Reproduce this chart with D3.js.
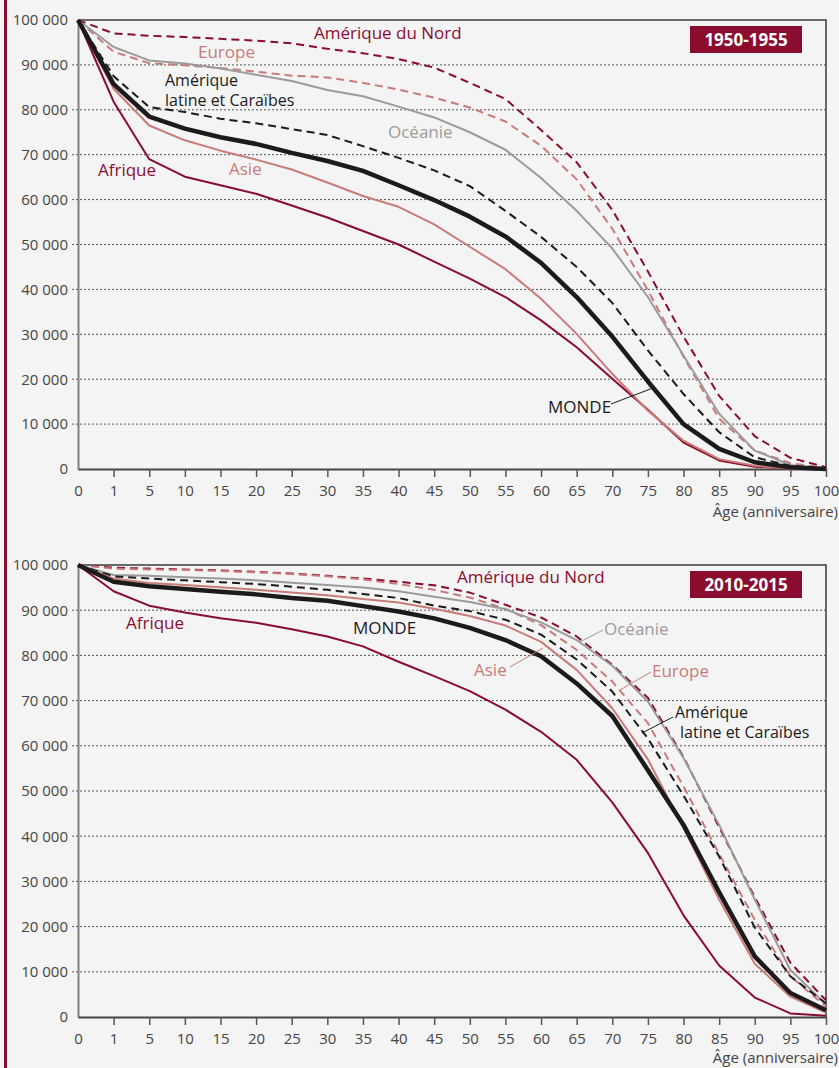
<!DOCTYPE html>
<html>
<head>
<meta charset="utf-8">
<script src="https://cdn.jsdelivr.net/npm/d3@7"></script>
<style>
  body { margin: 0; background: #f4f4f4; }
  svg { display: block; font-family: "Open Sans", sans-serif; }
</style>
</head>
<body>
<div id="chart"></div>
<script>
// ages (x axis categories)
var ages = [0, 1, 5, 10, 15, 20, 25, 30, 35, 40, 45, 50, 55, 60, 65, 70, 75, 80, 85, 90, 95, 100];
var yTicks = [0, 10000, 20000, 30000, 40000, 50000, 60000, 70000, 80000, 90000, 100000];

// survivors out of 100 000 births, 1950-1955
var afrique1950 = [100000, 81800, 69000, 65100, 63200, 61300, 58700, 56000, 53000, 50000, 46200, 42400, 38300, 33100, 27100, 20100, 13200, 5900, 1900, 500, 100, 0];
var asie1950 = [100000, 84700, 76500, 73200, 70900, 68900, 66700, 63800, 60800, 58400, 54500, 49500, 44500, 37900, 30100, 21200, 13000, 6300, 2200, 700, 100, 0];
var monde1950 = [100000, 85700, 78500, 75800, 73900, 72400, 70400, 68600, 66400, 63200, 59900, 56200, 51800, 45900, 38300, 29500, 19500, 10000, 4500, 1500, 400, 0];
var amLatine1950 = [100000, 87500, 80600, 79500, 78000, 77000, 75700, 74400, 71900, 69300, 66500, 63000, 57500, 51700, 45000, 37000, 26400, 16700, 8200, 2600, 700, 0];
var oceanie1950 = [100000, 94000, 91000, 90300, 89200, 87800, 86400, 84400, 83000, 80700, 78300, 75000, 71100, 64800, 57500, 49100, 38300, 25300, 12300, 4100, 900, 0];
var europe1950 = [100000, 92900, 90400, 89900, 89300, 88500, 87600, 87200, 86000, 84500, 82700, 80500, 77400, 72000, 64500, 53500, 39800, 25000, 11200, 4100, 1300, 200];
var amNord1950 = [100000, 97000, 96500, 96200, 95800, 95400, 94800, 93600, 92600, 91300, 89400, 86000, 82400, 75500, 68300, 57700, 44000, 29500, 16300, 7300, 2500, 400];

// survivors out of 100 000 births, 2010-2015
var afrique2010 = [100000, 94200, 91000, 89500, 88200, 87200, 85800, 84200, 82000, 78600, 75400, 72100, 68000, 63100, 56900, 47500, 36300, 22500, 11400, 4300, 800, 300];
var asie2010 = [100000, 97000, 96000, 95600, 95100, 94500, 93900, 93300, 92500, 91700, 90300, 88700, 86600, 83000, 76800, 68300, 57000, 41800, 26000, 11800, 4500, 1000];
var monde2010 = [100000, 96300, 95300, 94700, 94100, 93500, 92700, 92100, 90900, 89700, 88200, 86100, 83400, 79800, 73800, 66600, 54600, 42500, 27600, 13400, 5300, 1500];
var amLatine2010 = [100000, 97500, 97000, 96600, 96200, 95800, 95200, 94500, 93600, 92700, 91000, 89800, 87900, 84600, 79100, 72000, 61600, 49000, 35500, 19800, 9000, 3000];
var oceanie2010 = [100000, 97800, 97600, 97300, 97000, 96600, 96100, 95600, 95000, 94200, 93000, 91800, 90200, 87300, 83400, 77700, 69800, 57300, 42500, 26000, 10400, 2800];
var europe2010 = [100000, 99200, 99000, 98900, 98700, 98400, 98000, 97500, 96800, 95800, 94500, 92800, 90300, 86700, 81200, 74200, 65000, 51000, 36100, 21500, 9000, 2300];
var amNord2010 = [100000, 99400, 99200, 99000, 98800, 98500, 98100, 97600, 97000, 96300, 95500, 93900, 91200, 88400, 84200, 77900, 70600, 57500, 42000, 26500, 12000, 3700];

var CRIMSON = "#8a0c2f", SALMON = "#c87b79", GREY = "#9b9b9b", BLACK = "#1c1a1b";

var width = 839, height = 1068;
var svg = d3.select("#chart").append("svg")
  .attr("width", width)
  .attr("height", height);

svg.append("rect").attr("width", width).attr("height", height).attr("fill", "#f4f4f4");
// left accent bar
svg.append("rect").attr("x", 4).attr("y", 0).attr("width", 3).attr("height", height).attr("fill", CRIMSON);

var fr = d3.formatLocale({ decimal: ",", thousands: "\u00a0", grouping: [3], currency: ["", " €"] });
var fmt = fr.format(",d");

var x = d3.scalePoint().domain(ages).range([78, 826]);

function drawPanel(cfg) {
  var y = d3.scaleLinear().domain([0, 100000]).range([cfg.bottom, cfg.top]);
  var g = svg.append("g");

  // grid lines
  g.selectAll(".grid").data(yTicks.filter(d => d > 0 && d < 100000)).enter()
    .append("line")
    .attr("x1", 72).attr("x2", 826)
    .attr("y1", d => y(d)).attr("y2", d => y(d))
    .attr("stroke", "#555").attr("stroke-width", 1).attr("stroke-dasharray", "2,2");

  // frame: top + right
  g.append("path")
    .attr("d", `M78,${cfg.top}H826V${cfg.bottom}`)
    .attr("fill", "none").attr("stroke", "#3a3a3a").attr("stroke-width", 1.5);

  // y axis
  var yAxis = d3.axisLeft(y).tickValues(yTicks).tickFormat(fmt).tickSize(0).tickPadding(10);
  var ya = g.append("g").attr("transform", "translate(78,0)").call(yAxis);
  ya.select(".domain").attr("stroke", "#808080").attr("stroke-width", 2);
  ya.selectAll("text").attr("font-size", 15).attr("fill", "#454545").attr("font-family", "Open Sans");

  // x axis
  var xAxis = d3.axisBottom(x).tickSizeOuter(0).tickSizeInner(8).tickPadding(8);
  var xa = g.append("g").attr("transform", `translate(0,${cfg.bottom})`).call(xAxis);
  xa.select(".domain").attr("stroke", "#444").attr("stroke-width", 2);
  xa.selectAll(".tick line").attr("stroke", "#555").attr("stroke-width", 1.5);
  xa.selectAll(".tick").filter(d => d === 0).select("line").remove();
  xa.selectAll("text").attr("font-size", 15).attr("fill", "#454545").attr("font-family", "Open Sans");

  g.append("text")
    .attr("x", 838).attr("y", Math.min(cfg.bottom + 48, 1063))
    .attr("text-anchor", "end").attr("font-size", 15).attr("fill", "#454545")
    .text("Âge (anniversaire)");

  // curves
  var line = d3.line().x((d, i) => x(ages[i])).y(d => y(d));
  cfg.series.forEach(function(s) {
    g.append("path")
      .datum(s.values)
      .attr("d", line)
      .attr("fill", "none")
      .attr("stroke", s.color)
      .attr("stroke-width", s.w)
      .attr("stroke-dasharray", s.dash ? "8,5" : null)
      .attr("stroke-linejoin", "round");
  });

  // period box
  g.append("rect")
    .attr("x", 690).attr("y", cfg.top + 6).attr("width", 112).attr("height", 27)
    .attr("fill", CRIMSON);
  g.append("text")
    .attr("x", 746).attr("y", cfg.top + 25.5)
    .attr("text-anchor", "middle").attr("font-size", 17).attr("font-weight", "bold")
    .attr("fill", "#fff").text(cfg.period);

  // labels and leaders (two-line labels as separate texts)
  cfg.labels.forEach(function(l) {
    var fs = l.text.length > 1 ? 16 : 17;
    l.text.forEach(function(s, i) {
      g.append("text")
        .attr("x", l.x + (i > 0 && l.indent ? l.indent : 0))
        .attr("y", l.y + i * 20.5)
        .attr("font-size", fs).attr("fill", l.color)
        .text(s);
    });
    if (l.leader) {
      g.append("line")
        .attr("x1", l.leader[0]).attr("y1", l.leader[1])
        .attr("x2", l.leader[2]).attr("y2", l.leader[3])
        .attr("stroke", l.color).attr("stroke-width", 1);
    }
  });
}

drawPanel({
  top: 20, bottom: 469, period: "1950-1955",
  series: [
    { values: amNord1950, color: CRIMSON, w: 2, dash: true },
    { values: europe1950, color: SALMON, w: 2, dash: true },
    { values: oceanie1950, color: GREY, w: 2 },
    { values: amLatine1950, color: BLACK, w: 2, dash: true },
    { values: afrique1950, color: CRIMSON, w: 2 },
    { values: asie1950, color: SALMON, w: 2 },
    { values: monde1950, color: BLACK, w: 4.5 }
  ],
  labels: [
    { text: ["Amérique du Nord"], x: 314, y: 39, color: CRIMSON },
    { text: ["Europe"], x: 198, y: 58, color: SALMON },
    { text: ["Amérique", "latine et Caraïbes"], x: 165, y: 85.5, color: BLACK },
    { text: ["Océanie"], x: 388, y: 138, color: GREY },
    { text: ["Afrique"], x: 98, y: 176, color: CRIMSON },
    { text: ["Asie"], x: 229, y: 175, color: SALMON },
    { text: ["MONDE"], x: 548, y: 413, color: BLACK, leader: [611, 404, 653, 388] }
  ]
});

drawPanel({
  top: 565, bottom: 1017, period: "2010-2015",
  series: [
    { values: amNord2010, color: CRIMSON, w: 2, dash: true },
    { values: europe2010, color: SALMON, w: 2, dash: true },
    { values: oceanie2010, color: GREY, w: 2 },
    { values: amLatine2010, color: BLACK, w: 2, dash: true },
    { values: afrique2010, color: CRIMSON, w: 2 },
    { values: asie2010, color: SALMON, w: 2 },
    { values: monde2010, color: BLACK, w: 4.5 }
  ],
  labels: [
    { text: ["Amérique du Nord"], x: 457, y: 583, color: CRIMSON },
    { text: ["Afrique"], x: 126, y: 629, color: CRIMSON },
    { text: ["MONDE"], x: 353, y: 634, color: BLACK },
    { text: ["Océanie"], x: 604, y: 635, color: GREY, leader: [603, 630, 580, 642] },
    { text: ["Asie"], x: 474, y: 676, color: SALMON, leader: [510, 667, 543, 648] },
    { text: ["Europe"], x: 652, y: 677, color: SALMON, leader: [651, 672, 620, 690] },
    { text: ["Amérique", "latine et Caraïbes"], x: 675, y: 717.5, indent: 5, color: BLACK, leader: [673, 717, 642, 733] }
  ]
});
</script>
</body>
</html>
